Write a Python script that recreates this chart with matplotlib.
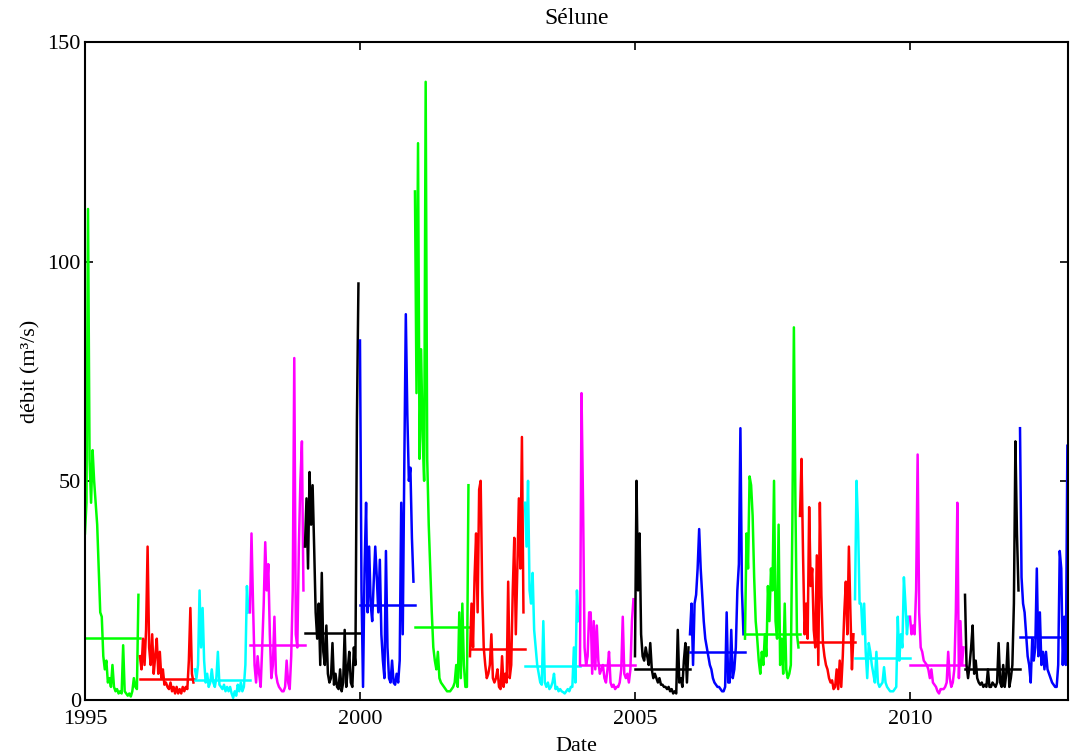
import numpy as np
import matplotlib.pyplot as plt

plt.switch_backend('agg')
plt.rcParams['font.family'] = ['Liberation Serif', 'DejaVu Serif']

# debit, ~36 valeurs par an (tous les ~10 jours)
q1995 = [38, 45, 112, 55, 45, 57, 50, 45, 40, 30, 20, 19, 10, 7, 9, 4, 5, 3, 8, 3,
         2, 2.5, 1.5, 2, 1.5, 12.5, 2, 1.5, 1, 1.5, 0.8, 2, 5, 3, 2.5, 24]
q1996 = [10, 7, 14, 8, 16, 35, 12, 8, 15, 6, 10, 14, 6, 11, 5, 7, 3.5, 4, 3, 2.5,
         4, 2, 3, 1.5, 3, 1.5, 2.5, 1.5, 3, 2, 3, 2.5, 9, 21, 6, 4]
q1997 = [7, 5, 8, 25, 12, 21, 9, 4, 6, 3, 4, 7, 4, 3, 5, 11, 3.5, 3, 2.5, 3.5,
         2, 3, 2, 3, 1.5, 0.5, 2, 1, 3.5, 2, 4, 2, 3, 8, 26, 20]
q1998 = [20, 38, 22, 8, 4, 10, 6, 3, 12, 22, 36, 25, 31, 15, 5, 8, 19, 6, 4, 3,
         2.5, 2, 2, 3, 9, 4, 2.5, 10, 25, 78, 15, 12, 35, 50, 59, 25]
q1999 = [35, 46, 30, 52, 40, 49, 35, 20, 14, 22, 8, 29, 11, 8, 17, 6, 4, 5, 13, 3.5,
         6, 3, 2.5, 7, 2, 4, 16, 3, 7, 11, 4, 3, 12, 8, 64, 95]
q2000 = [82, 25, 3, 30, 45, 20, 35, 22, 18, 27, 35, 28, 20, 32, 15, 9, 5, 34, 12, 5,
         4, 9, 4, 3.5, 6, 4, 9, 45, 15, 53, 88, 65, 50, 53, 37, 27]
q2001 = [116, 70, 127, 55, 80, 60, 50, 141, 55, 40, 30, 20, 12, 9, 7, 11, 5, 4, 3.5, 3,
         2.5, 2, 2, 2, 2.5, 3, 4, 8, 3, 20, 5, 22, 8, 3, 3, 49]
q2002 = [10, 22, 12, 28, 38, 20, 48, 50, 25, 12, 8, 5, 6, 8, 15, 5, 4, 5, 7, 3,
         2.5, 10, 3, 6, 4, 27, 5, 8, 25, 37, 15, 30, 46, 30, 60, 20]
q2003 = [45, 35, 50, 25, 22, 29, 16, 12, 8, 6, 4, 3.5, 18, 4, 3, 4, 2.5, 3, 4, 6,
         2.5, 3, 2, 2.5, 2, 1.8, 1.5, 2, 2.5, 2, 3, 3, 12, 4, 25, 18]
q2004 = [8, 70, 45, 12, 8, 10, 20, 20, 6, 18, 7, 17, 9, 6, 7, 8, 5, 4, 7, 11,
         4, 3, 3.5, 2.5, 3, 3, 4, 7, 19, 6, 5, 6, 4, 7, 18, 23]
q2005 = [10, 50, 25, 38, 15, 10, 9, 12, 10, 8, 13, 7, 5, 6, 5, 4, 5, 3.5, 3.5, 3,
         3, 2.5, 3, 2, 2.5, 1.5, 2, 1.5, 16, 4, 5, 3, 9, 13, 4, 12]
q2006 = [15, 22, 8, 22, 24, 30, 39, 30, 24, 18, 14, 12, 10, 8, 7, 5, 4, 3.5, 3, 3,
         2.5, 2, 2, 3, 20, 4, 4, 16, 5, 7, 12, 25, 31, 62, 25, 15]
q2007 = [14, 38, 30, 51, 49, 42, 28, 18, 14, 9, 6, 11, 8, 15, 10, 26, 18, 30, 25, 50,
         18, 14, 40, 8, 14, 6, 22, 7, 5, 6, 8, 40, 85, 45, 15, 12]
q2008 = [42, 55, 33, 15, 22, 14, 44, 26, 30, 16, 12, 33, 8, 45, 24, 13, 10, 8, 7, 5,
         4, 4.5, 2.5, 3, 7, 2.5, 9, 3, 10, 20, 27, 15, 35, 20, 7, 15]
q2009 = [23, 50, 40, 22, 22, 15, 22, 11, 5, 13, 11, 8, 6, 4, 11, 4, 3, 3.5, 4, 7.5,
         4, 3, 2.5, 2, 2, 2, 2.5, 3, 19, 9, 15, 12, 28, 22, 15, 19]
q2010 = [19, 15, 17, 15, 25, 56, 20, 12, 11, 9, 8.5, 8, 7, 5, 7, 4, 3.5, 3, 2, 1.5,
         2.5, 2.5, 2.5, 3, 4, 11, 5, 3, 4, 7, 20, 45, 5, 18, 8, 12]
q2011 = [24, 8, 5, 8, 12, 17, 6, 9, 5, 4, 3.5, 4, 3, 3.5, 3, 7, 3, 3, 4, 3.5,
         3, 4, 13, 4, 3, 8, 3, 6, 13, 3, 5, 8, 22, 59, 38, 25]
q2012 = [62, 28, 22, 20, 15, 10, 8, 4, 14, 9, 12, 30, 10, 20, 8, 11, 7, 11, 7, 6,
         5, 4, 3.5, 3, 3, 8, 34, 30, 8, 19, 8, 58]

years = list(range(1995, 2013))
flows = [q1995, q1996, q1997, q1998, q1999, q2000, q2001, q2002, q2003,
         q2004, q2005, q2006, q2007, q2008, q2009, q2010, q2011, q2012]
annual_mean = [14.1, 4.8, 4.6, 12.5, 15.3, 21.7, 16.7, 11.6, 7.7,
               8.0, 7.0, 11.0, 15.0, 13.3, 9.7, 8.0, 7.0, 14.3]
colors = ['#00ff00', '#ff0000', '#00ffff', '#ff00ff', '#000000', '#0000ff']
x_end = 2012.87

fig = plt.figure(figsize=(10.7, 7.56), dpi=100)
ax = fig.add_axes([0.0794, 0.074, 0.9186, 0.870])

for k, (yr, q, m) in enumerate(zip(years, flows, annual_mean)):
    c = colors[k % len(colors)]
    t = yr + np.arange(len(q)) / 36.0
    ax.plot(t, q, color=c, linewidth=1.8)
    ax.plot([yr, min(yr + 1, x_end)], [m, m], color=c, linewidth=1.8)

ax.set_xlim(1995, x_end)
ax.set_ylim(0, 150)
ax.set_xticks([1995, 2000, 2005, 2010])
ax.set_yticks([0, 50, 100, 150])
ax.tick_params(direction='in', top=True, right=True, length=6, width=1.2,
               labelsize=16)
ax.tick_params(axis='x', pad=7)
ax.tick_params(axis='y', pad=3)
for s in ax.spines.values():
    s.set_linewidth(1.5)

ax.set_title('Sélune', fontsize=17, pad=13)
ax.set_xlabel('Date', fontsize=16, labelpad=6)
ax.set_ylabel('débit (m³/s)', fontsize=16, labelpad=5)

fig.savefig('out.png', dpi=100)
plt.close('all')
